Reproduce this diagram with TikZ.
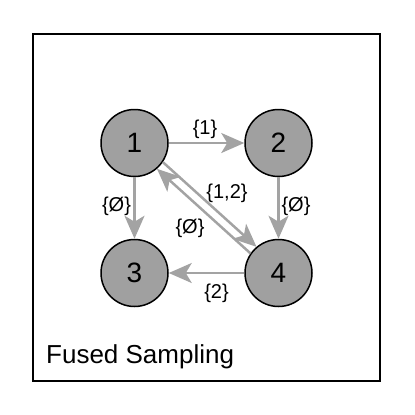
\documentclass[tikz,border=0pt]{standalone}
\usepackage{fontspec}
\setmainfont{Liberation Sans}
\usetikzlibrary{arrows.meta}
\definecolor{nodegray}{RGB}{160,160,160}
\definecolor{edgegray}{RGB}{163,163,163}
\begin{document}
\begin{tikzpicture}[x=1pt,y=-1pt,
  state/.style={circle,draw=black,line width=1.5pt,fill=nodegray,minimum size=67pt,inner sep=0pt,font=\fontsize{28}{32}\selectfont},
  edge/.style={draw=edgegray,line width=2.5pt,-{Stealth[length=23pt,width=20pt,inset=6pt]}},
  lbl/.style={font=\fontsize{20}{24}\selectfont,inner sep=0pt}]
\useasboundingbox (0,0) rectangle (415,415);
\draw[line width=2pt] (33,34) rectangle (380,381);
\node[state] (n1) at (134.5,143) {1};
\node[state] (n2) at (278.5,143) {2};
\node[state] (n3) at (134.5,273) {3};
\node[state] (n4) at (278.5,273) {4};
\draw[edge] (n1) -- (n2);
\draw[edge] (n1) -- (n3);
\draw[edge] (n2) -- (n4);
\draw[edge] (n4) -- (n3);
\draw[edge] (n1.-34.4) -- (n4.130.4);
\draw[edge] (n4.145.6) -- (n1.-49.6);
\node[lbl] (l12) at (205,129) {\{1\}};
\node[lbl] (l13) at (116.5,206) {\{Ø\}};
\node[lbl] (l24) at (296,206) {\{Ø\}};
\node[lbl] (l14) at (227,193) {\{1,2\}};
\node[lbl] (l41) at (190,228) {\{Ø\}};
\node[lbl] (l43) at (216.5,293) {\{2\}};
\node[anchor=base west,inner sep=0pt,font=\fontsize{26}{30}\selectfont] (title) at (46,363) {Fused Sampling};
\end{tikzpicture}
\end{document}
